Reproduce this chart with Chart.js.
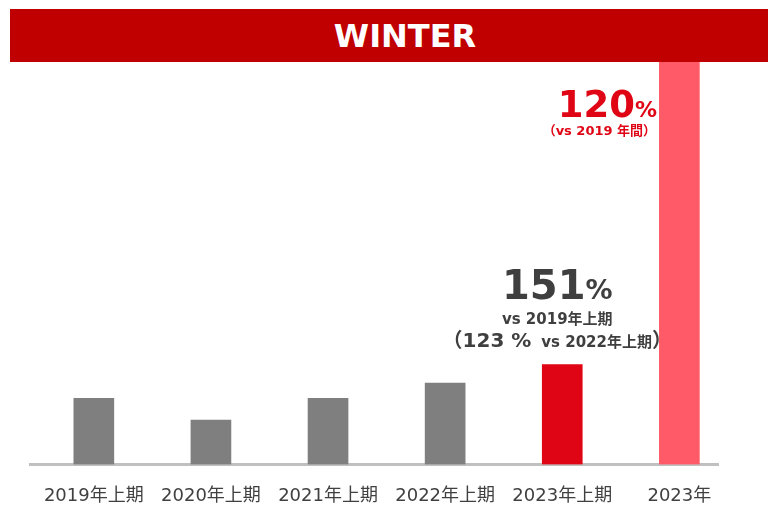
<!DOCTYPE html>
<html>
<head>
<meta charset="utf-8">
<script src="https://cdn.jsdelivr.net/npm/chart.js@4.4.1/dist/chart.umd.min.js"></script>
<style>
html, body { margin: 0; padding: 0; background: #fff; }
#wrap { position: relative; width: 768px; height: 513px; overflow: hidden; }
#chart { position: absolute; left: 0; top: 0; }
#banner { position: absolute; left: 10px; top: 9px; width: 758px; height: 53px; background: #c00000; z-index: 2; }
#banner span { position: absolute; left: 0; top: 0; width: 790px; height: 53px; text-align: center;
  color: #fff; font: bold 32px 'DejaVu Sans', 'Noto Sans', sans-serif; line-height: 55px; }
</style>
</head>
<body>
<div id="wrap">
  <canvas id="chart" width="768" height="513"></canvas>
  <div id="banner"><span id="bannerText"></span></div>
</div>
<script>
// ---- data ----
const title = 'WINTER';
const categories = ['2019年上期', '2020年上期', '2021年上期', '2022年上期', '2023年上期', '2023年'];
const values = [100, 67, 100, 123, 151, 650];   // index, 2019年上期 = 100
const barColors = ['#7f7f7f', '#7f7f7f', '#7f7f7f', '#7f7f7f', '#e00515', '#ff5a67'];
const halfNote = { value: '151', unit: '%', line2: 'vs 2019年上期', sub: '123', subUnit: '%', subText: 'vs 2022年上期' };
const yearNote = { value: '120', unit: '%', line2: '（vs 2019 年間）' };

document.getElementById('bannerText').textContent = title;

const FAM = "'DejaVu Sans', 'Noto Sans CJK JP', sans-serif";

function drawRuns(ctx, runs, cx, baseline) {
  let total = 0;
  runs.forEach(r => { ctx.font = r.font; r.w = ctx.measureText(r.text).width + (r.gap || 0); total += r.w; });
  let x = cx - total / 2;
  ctx.textBaseline = 'alphabetic';
  ctx.textAlign = 'left';
  runs.forEach(r => { ctx.font = r.font; ctx.fillStyle = r.color; ctx.fillText(r.text, x, baseline); x += r.w; });
}

const notes = {
  id: 'notes',
  afterDatasetsDraw(chart) {
    const ctx = chart.ctx;
    const meta = chart.getDatasetMeta(0);
    const b = meta.data[4];
    const dark = '#3f3f3f';
    ctx.save();
    const cx = b.x - 5;
    drawRuns(ctx, [
      { text: halfNote.value, font: `bold 40px ${FAM}`, color: dark },
      { text: halfNote.unit, font: `bold 27px ${FAM}`, color: dark }
    ], cx, b.y - 66);
    drawRuns(ctx, [
      { text: halfNote.line2, font: `bold 15px ${FAM}`, color: dark }
    ], cx, b.y - 41);
    drawRuns(ctx, [
      { text: '（', font: `bold 20px 'Noto Sans CJK JP', sans-serif`, color: dark },
      { text: halfNote.sub + ' ', font: `bold 20px ${FAM}`, color: dark },
      { text: halfNote.subUnit + ' ', font: `bold 20px ${FAM}`, color: dark, gap: 3 },
      { text: halfNote.subText, font: `bold 15px ${FAM}`, color: dark },
      { text: '）', font: `bold 20px 'Noto Sans CJK JP', sans-serif`, color: dark }
    ], cx, b.y - 18);

    const p = meta.data[5];
    const red = '#e00515';
    const top = chart.chartArea.top;
    drawRuns(ctx, [
      { text: yearNote.value, font: `bold 37px ${FAM}`, color: red },
      { text: yearNote.unit, font: `bold 22px ${FAM}`, color: red }
    ], p.x - 72, top + 115);
    drawRuns(ctx, [
      { text: yearNote.line2, font: `bold 13px ${FAM}`, color: red }
    ], p.x - 80, top + 133);
    ctx.restore();
  }
};

new Chart(document.getElementById('chart'), {
  type: 'bar',
  data: {
    datasets: [{
      data: values.map((v, i) => ({ x: i, y: v })),
      backgroundColor: barColors,
      barThickness: 40,
      borderWidth: 0
    }]
  },
  options: {
    responsive: false,
    animation: false,
    layout: { padding: { left: 30, right: 50, top: 2, bottom: -15 } },
    plugins: { legend: { display: false }, tooltip: { enabled: false } },
    scales: {
      x: {
        type: 'linear',
        offset: false,
        min: -0.545,
        max: 5.33,
        afterBuildTicks: s => { s.ticks = categories.map((_, i) => ({ value: i })); },
        grid: { display: false, drawTicks: false },
        border: { display: true, color: '#c0c0c0', width: 3 },
        ticks: {
          autoSkip: false,
          maxRotation: 0,
          padding: 21,
          color: '#404040',
          font: { family: FAM, size: 18 },
          callback: v => categories[v]
        }
      },
      y: {
        min: 0,
        max: 700,
        display: false
      }
    }
  },
  plugins: [notes]
});
</script>
</body>
</html>
